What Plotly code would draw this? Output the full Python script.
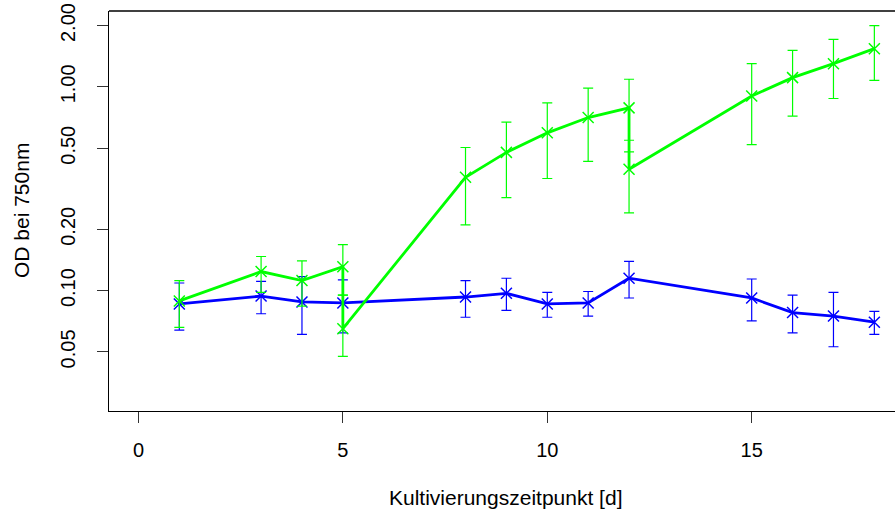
import plotly.graph_objects as go

# ---- data ----
t_blue = [1, 3, 4, 5, 8, 9, 10, 11, 12, 15, 16, 17, 18]
blue_mean = [0.086, 0.094, 0.088, 0.087, 0.093, 0.097, 0.086, 0.087, 0.115, 0.092, 0.078, 0.075, 0.070]
blue_hi = [0.109, 0.111, 0.117, 0.113, 0.112, 0.115, 0.098, 0.099, 0.139, 0.114, 0.095, 0.098, 0.079]
blue_lo = [0.064, 0.077, 0.061, 0.062, 0.074, 0.080, 0.074, 0.075, 0.092, 0.071, 0.062, 0.053, 0.061]

t_green = [1, 3, 4, 5, 5, 8, 9, 10, 11, 12, 12, 15, 16, 17, 18]
green_mean = [0.089, 0.124, 0.112, 0.131, 0.065, 0.36, 0.477, 0.595, 0.707, 0.789, 0.394, 0.902, 1.11, 1.30, 1.54]
green_hi = [0.112, 0.147, 0.140, 0.168, 0.095, 0.504, 0.671, 0.835, 0.986, 1.09, 0.547, 1.30, 1.51, 1.71, 2.0]
green_lo = [0.066, 0.098, 0.084, 0.095, 0.0475, 0.21, 0.286, 0.355, 0.431, 0.48, 0.241, 0.521, 0.718, 0.877, 1.077]

x_ticks = [0, 5, 10, 15]
y_ticks = [0.05, 0.1, 0.2, 0.5, 1.0, 2.0]
y_ticktext = ["0.05", "0.10", "0.20", "0.50", "1.00", "2.00"]

x_title = "Kultivierungszeitpunkt [d]"
y_title = "OD bei 750nm"

FONT = "Liberation Sans, Arial, sans-serif"


def series(t, mean, hi, lo, color):
    return go.Scatter(
        x=t, y=mean, mode="lines+markers",
        line=dict(color=color, width=2.8),
        marker=dict(symbol="x-thin", size=11, line=dict(color=color, width=1.5), color=color),
        error_y=dict(type="data", symmetric=False,
                     array=[h - m for h, m in zip(hi, mean)],
                     arrayminus=[m - l for m, l in zip(mean, lo)],
                     color=color, thickness=1.2, width=5),
        showlegend=False, hoverinfo="skip",
    )


fig = go.Figure()
fig.add_trace(series(t_blue, blue_mean, blue_hi, blue_lo, "#0000FF"))
fig.add_trace(series(t_green, green_mean, green_hi, green_lo, "#00FF00"))

W, H = 895, 515
L, T = 109, 11
PLOT_BOTTOM = 411.5
B = H - PLOT_BOTTOM
fig.update_layout(
    width=W, height=H,
    margin=dict(l=L, r=0, t=T, b=B, pad=0, autoexpand=False),
    paper_bgcolor="white", plot_bgcolor="white",
    font=dict(family=FONT, size=20, color="black"),
    xaxis=dict(range=[-0.72, 18.505], tickvals=x_ticks, ticks="outside", ticklen=11,
               tickwidth=1, tickcolor="#333", showgrid=False, zeroline=False,
               showline=True, linecolor="black", linewidth=1.3, ticklabelstandoff=10,
               automargin=False, ticklabeloverflow="allow"),
    yaxis=dict(type="log", range=[-1.591, 0.3725], tickvals=y_ticks, ticktext=y_ticktext,
               tickangle=-90, ticks="outside", ticklen=11, tickwidth=1, tickcolor="#333",
               showgrid=False, zeroline=False, showline=True, linecolor="black",
               linewidth=1.3, ticklabelstandoff=14, automargin=False,
               ticklabeloverflow="allow"),
    shapes=[dict(type="line", xref="paper", yref="paper", x0=0, x1=1, y0=1, y1=1,
                 line=dict(color="black", width=1.3))],
    annotations=[
        dict(text=x_title, xref="paper", yref="paper",
             x=(505.5 - L) / (W - L), y=(PLOT_BOTTOM - 498) / (PLOT_BOTTOM - T),
             xanchor="center", yanchor="middle", showarrow=False, font=dict(size=21)),
        dict(text=y_title, xref="paper", yref="paper", textangle=-90,
             x=(21 - L) / (W - L), y=0.5,
             xanchor="center", yanchor="middle", showarrow=False, font=dict(size=21)),
    ],
)

# remove the browser's default 8px body margin so the figure sits at the window origin
fig.write_html("out.html",
               config={"displayModeBar": False},
               post_script="document.body.style.margin='0px';document.body.style.overflow='hidden';")
